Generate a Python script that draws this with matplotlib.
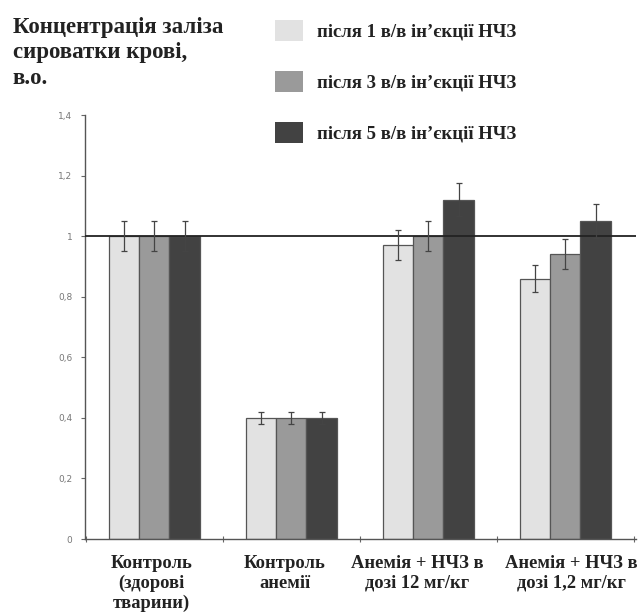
import numpy as np
import matplotlib.pyplot as plt
from matplotlib.patches import Patch

groups = ['Контроль\n(здорові\nтварини)', 'Контроль\nанемії',
          'Анемія + НЧЗ в\nдозі 12 мг/кг', 'Анемія + НЧЗ в\nдозі 1,2 мг/кг']
series = ['після 1 в/в ін’єкції НЧЗ', 'після 3 в/в ін’єкції НЧЗ',
          'після 5 в/в ін’єкції НЧЗ']
inj1 = [1.00, 0.40, 0.97, 0.86]
inj3 = [1.00, 0.40, 1.00, 0.94]
inj5 = [1.00, 0.40, 1.12, 1.05]
err1 = [0.05, 0.02, 0.05, 0.045]
err3 = [0.05, 0.02, 0.05, 0.05]
err5 = [0.05, 0.02, 0.055, 0.055]
yticks = [0, 0.2, 0.4, 0.6, 0.8, 1.0, 1.2, 1.4]
ytick_labels = ['0', '0,2', '0,4', '0,6', '0,8', '1', '1,2', '1,4']

colors = ['#e2e2e2', '#9a9a9a', '#424242']
serif = 'Liberation Serif'
# small horizontal nudges of the category labels, as in the original layout
label_shift = [-0.02, -0.045, -0.08, 0.045]


def main():
    fig = plt.figure(figsize=(6.41, 6.14), dpi=100)
    ax = fig.add_axes([0.1326, 0.1221, 0.8594, 0.6906])

    x = np.arange(len(groups))
    w = 0.222
    for i, (vals, errs) in enumerate([(inj1, err1), (inj3, err3), (inj5, err5)]):
        ax.bar(x + (i - 1) * w, vals, w, color=colors[i], edgecolor='#555555',
               linewidth=0.9, zorder=2)
        ax.errorbar(x + (i - 1) * w, vals, yerr=errs, fmt='none',
                    ecolor='#444444', elinewidth=0.9, capsize=2.5, capthick=0.9,
                    zorder=4)

    ax.axhline(1.0, color='#222222', linewidth=1.3, zorder=3)

    ax.set_xlim(-0.505, 3.516)
    ax.set_ylim(0, 1.4)
    ax.set_yticks(yticks)
    ax.set_yticklabels(ytick_labels, fontsize=6.5, color='#777777')
    ax.set_xticks([-0.5, 0.5, 1.5, 2.5, 3.5])
    ax.set_xticklabels([])
    ax.tick_params(axis='y', length=3, width=0.8, color='#666666', direction='out', pad=6)
    ax.tick_params(axis='x', length=4, width=0.8, color='#666666', direction='inout')
    for s in ['top', 'right']:
        ax.spines[s].set_visible(False)
    for s in ['left', 'bottom']:
        ax.spines[s].set_color('#555555')
        ax.spines[s].set_linewidth(1.0)

    for xi, g, dx in zip(x, groups, label_shift):
        ax.text(xi + dx, -0.052, g, ha='center', va='top', fontsize=13.3,
                fontweight='bold', family=serif, color='#222222',
                linespacing=1.22, transform=ax.transData)

    fig.text(0.02, 0.973, 'Концентрація заліза\nсироватки крові,\nв.о.',
             ha='left', va='top', fontsize=16.5, fontweight='bold', family=serif,
             color='#222222', linespacing=1.3)

    handles = [Patch(facecolor=c, edgecolor='none') for c in colors]
    leg = fig.legend(handles, series, loc='upper left', bbox_to_anchor=(0.429, 0.968),
                     frameon=False, prop={'family': serif, 'weight': 'bold', 'size': 13.5},
                     handlelength=1.5, handleheight=1.35, labelspacing=1.6,
                     handletextpad=0.75, borderpad=0, borderaxespad=0)
    for t in leg.get_texts():
        t.set_color('#222222')

    fig.savefig('out.png', dpi=100)


if __name__ == '__main__':
    main()
